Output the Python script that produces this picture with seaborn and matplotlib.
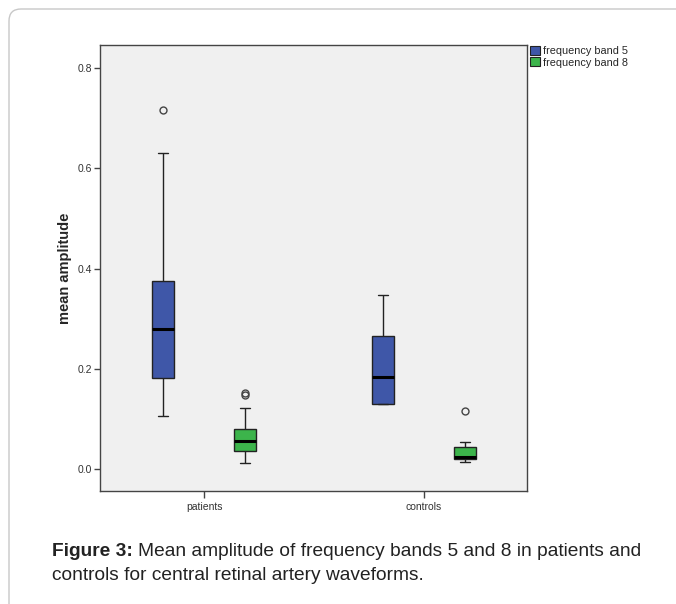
import numpy as np
import pandas as pd
import matplotlib
matplotlib.use("Agg")
import matplotlib.pyplot as plt
from matplotlib.patches import FancyBboxPatch, Patch
import seaborn as sns

# ---- data ----
groups = ["patients", "controls"]
bands = ["frequency band 5", "frequency band 8"]
patients_band5 = [0.106, 0.150, 0.182, 0.230, 0.280, 0.330, 0.375, 0.630, 0.716]
patients_band8 = [0.012, 0.025, 0.030, 0.036, 0.045, 0.050, 0.056, 0.065, 0.072,
                  0.080, 0.122, 0.148, 0.151]
controls_band5 = [0.130, 0.130, 0.184, 0.266, 0.348]
controls_band8 = [0.013, 0.016, 0.019, 0.021, 0.023, 0.035, 0.043, 0.053, 0.115]
y_ticks = [0.0, 0.2, 0.4, 0.6, 0.8]
y_ticklabels = ["0.0", "0.2", "0.4", "0.6", "0.8"]

rows = []
for g, b, vals in [("patients", bands[0], patients_band5),
                   ("patients", bands[1], patients_band8),
                   ("controls", bands[0], controls_band5),
                   ("controls", bands[1], controls_band8)]:
    for v in vals:
        rows.append({"group": g, "band": b, "value": v})
df = pd.DataFrame(rows)

sns.set_style("white")
plt.rcParams["font.family"] = ["Liberation Sans", "DejaVu Sans"]

fig = plt.figure(figsize=(6.76, 6.04), dpi=100)
ax = fig.add_axes([100/676, 1 - 491/604, 427/676, 446/604])
ax.set_facecolor("#f0f0f0")

palette = {bands[0]: "#3f57a8", bands[1]: "#3cb44b"}
sns.boxplot(data=df, x="group", y="value", hue="band", order=groups,
            hue_order=bands, palette=palette, width=0.745, gap=0.74,
            linecolor="#222222", linewidth=1.0, whis=1.5, saturation=1,
            medianprops={"color": "black", "linewidth": 2.2},
            flierprops={"marker": "o", "markerfacecolor": "none",
                        "markeredgecolor": "#444444", "markersize": 5,
                        "markeredgewidth": 1.0},
            ax=ax, legend=False)

ax.set_xlim(-0.473, 1.468)
ax.set_ylim(-0.044, 0.846)
ax.set_yticks(y_ticks)
ax.set_yticklabels(y_ticklabels, fontsize=7.5, color="#333333")
ax.tick_params(axis="both", direction="out", length=4, width=1, color="#444444",
               left=True, bottom=True, pad=2)
ax.tick_params(axis="x", labelsize=7.5, labelcolor="#333333", pad=3, length=5)
ax.set_xlabel("")
ax.set_ylabel("mean amplitude", fontsize=10.5, fontweight="bold", labelpad=4)
for s in ax.spines.values():
    s.set_color("#444444")
    s.set_linewidth(1.0)

handles = [Patch(facecolor=palette[b], edgecolor="#222222", linewidth=0.8, label=b)
           for b in bands]
leg = ax.legend(handles=handles, loc="upper left", bbox_to_anchor=(1.0, 1.005),
                frameon=False, fontsize=7.8, handlelength=0.9, handleheight=0.9,
                handletextpad=0.3, labelspacing=0.1, borderaxespad=0.2,
                borderpad=0.1)

# card frame
frame = FancyBboxPatch((0.09, -0.5), 7.5, 6.45,
                       boxstyle="round,pad=0,rounding_size=0.12",
                       transform=fig.dpi_scale_trans, facecolor="none",
                       edgecolor="#c8c8c8", linewidth=1.0, zorder=-1)
fig.patches.append(frame)

cap_fs = 13.8
x0 = 52 / 676
y1 = 1 - 552 / 604
t_bold = fig.text(x0, y1, "Figure 3:", fontsize=cap_fs, fontweight="bold",
                  va="center", ha="left", color="#222222")
fig.canvas.draw()
bb = t_bold.get_window_extent()
x_after = (bb.x1 + 5) / fig.bbox.width
fig.text(x_after, y1, "Mean amplitude of frequency bands 5 and 8 in patients and",
         fontsize=cap_fs, va="center", ha="left", color="#222222")
fig.text(x0, 1 - 575 / 604, "controls for central retinal artery waveforms.",
         fontsize=cap_fs, va="center", ha="left", color="#222222")

fig.savefig("out.png", dpi=100)
